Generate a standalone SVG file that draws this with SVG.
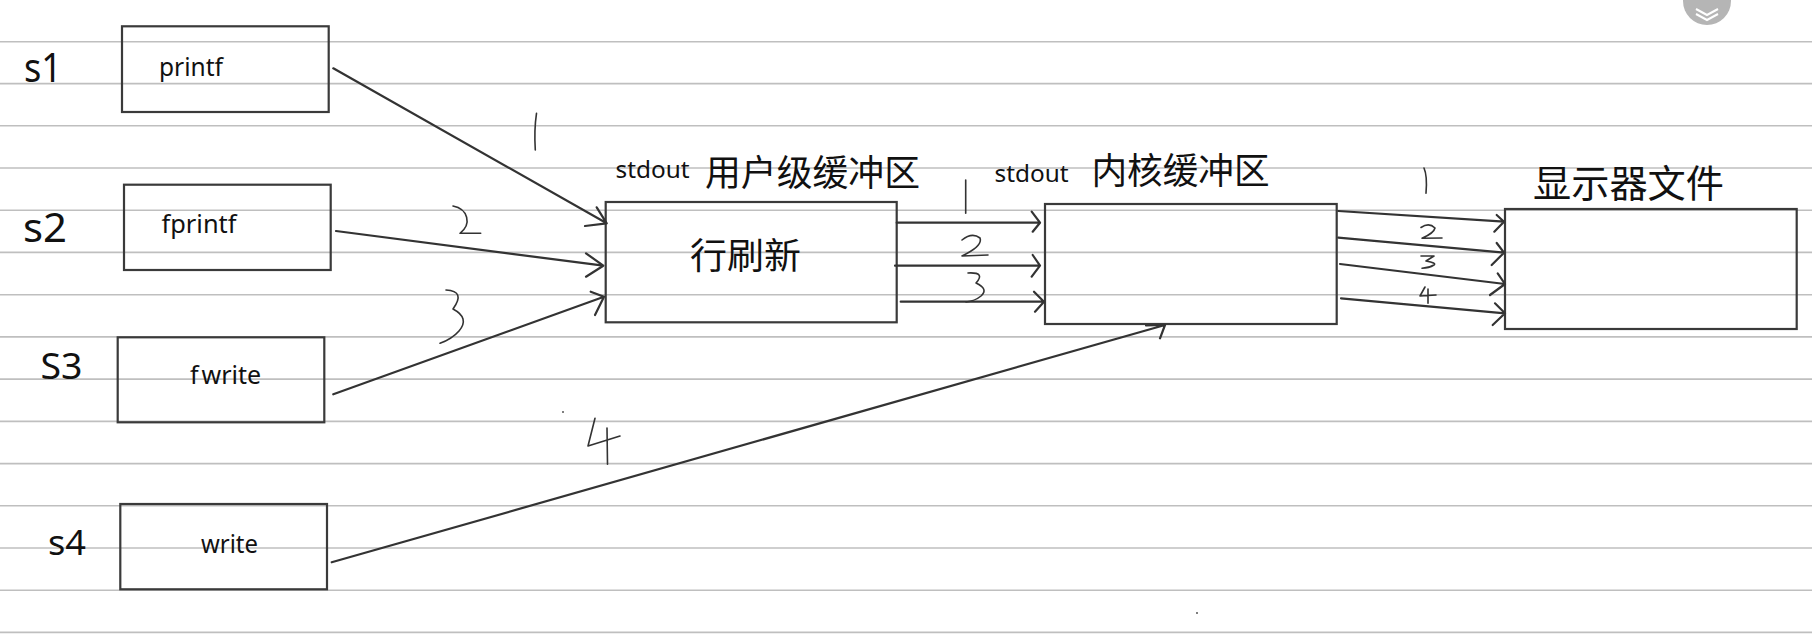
<svg xmlns="http://www.w3.org/2000/svg" width="1812" height="638" viewBox="0 0 1812 638">
<style>
.rule{stroke:#bfbfbf;stroke-width:1.6}
.box{fill:none;stroke:#3a3a3a;stroke-width:2.2}
.conn{fill:none;stroke:#333;stroke-width:2.2;stroke-linecap:round;stroke-linejoin:round}
.hand{fill:none;stroke:#333;stroke-width:1.6;stroke-linecap:round;stroke-linejoin:round}
.lat{font-family:"Noto Sans","Liberation Sans",sans-serif;fill:#111}
.cjk{font-family:"Noto Sans CJK SC","Noto Sans",sans-serif;fill:#111}
</style>
<rect width="1812" height="638" fill="#ffffff"/>
<g id="rules">
<line class="rule" x1="0" y1="41.7" x2="1812" y2="41.7"/>
<line class="rule" x1="0" y1="83.6" x2="1812" y2="83.6"/>
<line class="rule" x1="0" y1="125.8" x2="1812" y2="125.8"/>
<line class="rule" x1="0" y1="168" x2="1812" y2="168"/>
<line class="rule" x1="0" y1="210.2" x2="1812" y2="210.2"/>
<line class="rule" x1="0" y1="252.4" x2="1812" y2="252.4"/>
<line class="rule" x1="0" y1="294.7" x2="1812" y2="294.7"/>
<line class="rule" x1="0" y1="336.9" x2="1812" y2="336.9"/>
<line class="rule" x1="0" y1="379.1" x2="1812" y2="379.1"/>
<line class="rule" x1="0" y1="421.4" x2="1812" y2="421.4"/>
<line class="rule" x1="0" y1="463.6" x2="1812" y2="463.6"/>
<line class="rule" x1="0" y1="505.8" x2="1812" y2="505.8"/>
<line class="rule" x1="0" y1="548" x2="1812" y2="548"/>
<line class="rule" x1="0" y1="590.2" x2="1812" y2="590.2"/>
<line class="rule" x1="0" y1="632.4" x2="1812" y2="632.4"/>
</g>
<g id="icon">
<circle cx="1707" cy="1" r="24" fill="#b5b5b5"/>
<polyline points="1696,9 1707,15 1718,9" fill="none" stroke="#ffffff" stroke-width="2"/>
<polyline points="1696,14 1707,20 1718,14" fill="none" stroke="#ffffff" stroke-width="2"/>
</g>
<g id="s1">
<text class="lat" x="24" y="82.3" font-size="40" textLength="38" lengthAdjust="spacingAndGlyphs">s1</text>
</g>
<g id="s2">
<text class="lat" x="23" y="242.3" font-size="40" textLength="44" lengthAdjust="spacingAndGlyphs">s2</text>
</g>
<g id="s3">
<text class="lat" x="40.5" y="379" font-size="36" textLength="42" lengthAdjust="spacingAndGlyphs">S3</text>
</g>
<g id="s4">
<text class="lat" x="48" y="555" font-size="34" textLength="38" lengthAdjust="spacingAndGlyphs">s4</text>
</g>
<g id="printf">
<rect class="box" x="122" y="26.3" width="206.7" height="85.7"/>
<text class="lat" x="159" y="76" font-size="25" textLength="64" lengthAdjust="spacingAndGlyphs">printf</text>
</g>
<g id="fprintf">
<rect class="box" x="124" y="184.7" width="206.7" height="85.3"/>
<text class="lat" x="161.5" y="233.3" font-size="25" textLength="75" lengthAdjust="spacingAndGlyphs">fprintf</text>
</g>
<g id="fwrite">
<rect class="box" x="117.7" y="337.3" width="206.6" height="85"/>
<text class="lat" x="190" y="384.3" font-size="25">f<tspan dx="3">write</tspan></text>
</g>
<g id="write">
<rect class="box" x="120.3" y="504" width="206.7" height="85.3"/>
<text class="lat" x="201" y="552.7" font-size="25" textLength="57" lengthAdjust="spacingAndGlyphs">write</text>
</g>
<g id="userbuf">
<rect class="box" x="605.7" y="202" width="291" height="120.3"/>
<text class="lat" x="615.5" y="178.3" font-size="24" textLength="74" lengthAdjust="spacingAndGlyphs">stdout</text>
<text class="cjk" x="705" y="186" font-size="36" textLength="215" lengthAdjust="spacingAndGlyphs">用户级缓冲区</text>
<text class="cjk" x="690" y="269" font-size="36" textLength="111" lengthAdjust="spacingAndGlyphs">行刷新</text>
</g>
<g id="kernelbuf">
<rect class="box" x="1045" y="204" width="291.7" height="120"/>
<text class="lat" x="994.5" y="181.7" font-size="24" textLength="74" lengthAdjust="spacingAndGlyphs">stdout</text>
<text class="cjk" x="1091.5" y="184" font-size="36" textLength="178" lengthAdjust="spacingAndGlyphs">内核缓冲区</text>
</g>
<g id="display">
<rect class="box" x="1505" y="209" width="291.7" height="120"/>
<text class="cjk" x="1533" y="197" font-size="38" textLength="191" lengthAdjust="spacingAndGlyphs">显示器文件</text>
</g>
<g id="connectors">
<path class="conn" d="M333.3,68.3 L606.7,223.3 M596.7,207.3 L606.7,223.3 L585,226"/>
<path class="conn" d="M336,231 L603.3,265.7 M586,253.3 L603.3,265.7 L586,276.7"/>
<path class="conn" d="M333.3,394.3 L604,296.7 M590.7,291.7 L604,296.7 L595,315"/>
<path class="conn" d="M331.7,562.3 L1165,325 M1146,325.5 L1165,325 L1160,338.3"/>
<path class="conn" d="M896.7,222.7 L1040,222.7 M1031.7,211.7 L1040,222.7 L1032.7,231.7"/>
<path class="conn" d="M895,265.7 L1040,265.7 M1032.7,255 L1040,265.7 L1031.7,276.7"/>
<path class="conn" d="M900.7,301.7 L1044,301.7 M1034,291.7 L1044,301.7 L1035,311.7"/>
<path class="conn" d="M1338.3,211 L1504,221.7 M1496.7,215 L1504,221.7 L1494.3,231.7"/>
<path class="conn" d="M1338.3,237.7 L1504,252.7 M1496.7,243 L1504,252.7 L1491.7,265"/>
<path class="conn" d="M1340,264 L1505,284 M1497.7,273.3 L1505,284 L1490,295"/>
<path class="conn" d="M1341,298.3 L1505,313.3 M1495,303.3 L1505,313.3 L1492.7,325"/>
</g>
<g id="labels">
<path class="hand" d="M536.5,113.3 Q534,130 535.3,150"/>
<path class="hand" d="M453,206 C468,209 472,224 460,233.3 L480.7,233.3"/>
<path class="hand" d="M446,290 Q466,291 453,309 Q470,318 459,331 Q452,339 440,343.3"/>
<path class="hand" d="M595,418.3 L588,446 L620,436 M607,428 L607.5,464.3"/>
<path class="hand" d="M965.7,180 L965.7,213.3"/>
<path class="hand" d="M962,240 Q972,232 980,238 Q983,246 962,256 L988,255"/>
<path class="hand" d="M968,273 Q986,272 976,283 Q989,289 981,296 Q975,301 966,302"/>
<path class="hand" d="M1424,168 Q1427.5,176 1426,193.3"/>
<path class="hand" d="M1421,227.5 Q1429,222 1435,228 Q1434,233 1422,238.3 L1442,238"/>
<path class="hand" d="M1421,256 L1434,256 L1426,261 Q1437,263 1434,265 Q1429,268 1422,268.3"/>
<path class="hand" d="M1425,287 L1420,296 L1436,295 M1428,289 L1428,303.3"/>
<circle cx="563" cy="412" r="1" fill="#555"/>
<circle cx="1197" cy="613" r="1" fill="#555"/>
</g>
</svg>
